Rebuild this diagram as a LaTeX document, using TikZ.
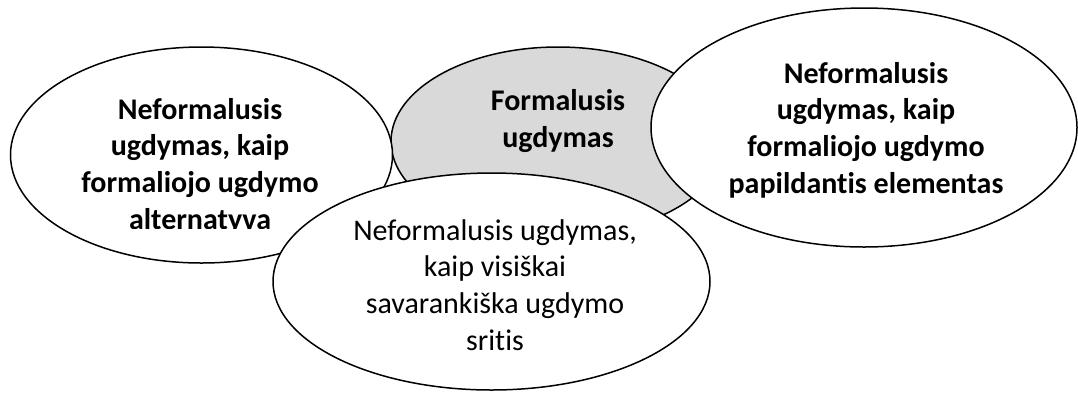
\documentclass[tikz,border=0pt]{standalone}
\usepackage{fontspec}
\setmainfont{Carlito}[Ligatures=CommonOff]
\usepackage{tikz}
\usetikzlibrary{shapes.geometric}
\definecolor{ovalgrey}{HTML}{D9D9D9}
\tikzset{
  oval/.style={ellipse, draw=black, line width=1.5pt, fill=white, inner sep=0pt},
  ovaltext/.style={align=center, inner sep=0pt, font=\fontsize{30}{36.7}\selectfont},
  boldtext/.style={ovaltext, font=\fontsize{30}{36.7}\selectfont\bfseries},
}

\begin{document}
\begin{tikzpicture}[x=1pt, y=-1pt]
  \useasboundingbox (0,0) rectangle (1078,392);
  % Define nodes
  \node[oval, fill=ovalgrey, minimum width=334pt, minimum height=189pt] (formal) at (558,141.5) {};
  \node[oval, minimum width=382pt, minimum height=216pt] (alt) at (201.5,155) {};
  \node[oval, minimum width=426pt, minimum height=239pt] (extra) at (864,127.5) {};
  \node[oval, minimum width=437pt, minimum height=217pt] (indep) at (491.5,281.5) {};

  % Texts
  \node[boldtext] (formaltxt) at (558,121) {Formalusis\\ugdymas};
  \begin{scope}
    %\clip cuts the last line like in the original
    \clip (0,0) rectangle (1078,228.5);
    \node[boldtext] (alttxt) at (200,166) {Neformalusis\\ugdymas, kaip\\formaliojo ugdymo\\alternatyva};
  \end{scope}
  \node[boldtext] (extratxt) at (866,130) {Neformalusis\\ugdymas, kaip\\formaliojo ugdymo\\papildantis elementas};
  \node[ovaltext] (indeptxt) at (495,285) {Neformalusis ugdymas,\\kaip visiškai\\savarankiška ugdymo\\sritis};
\end{tikzpicture}
\end{document}
